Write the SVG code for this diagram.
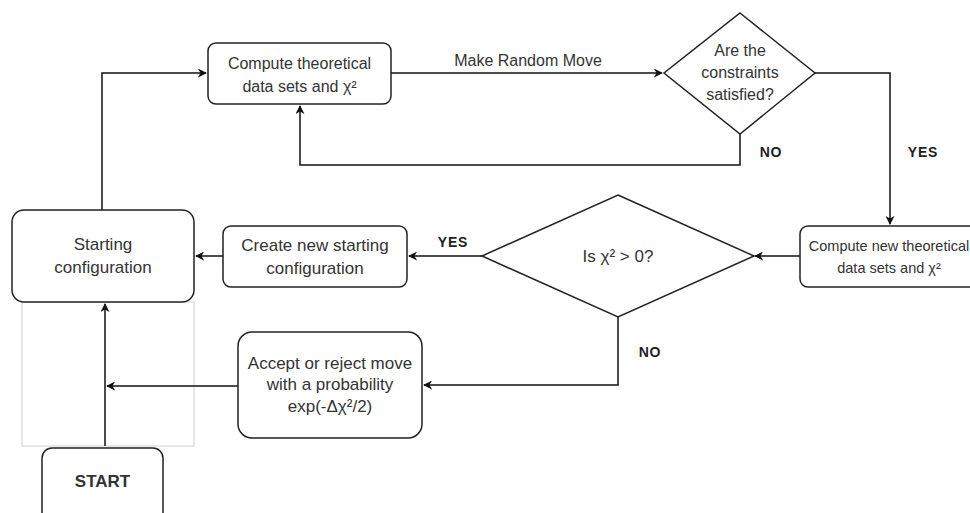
<svg xmlns="http://www.w3.org/2000/svg" width="970" height="513" viewBox="0 0 970 513">
<style>
.box{fill:#fff;stroke:#222;stroke-width:1.5}
.t{font-family:"Liberation Sans",Arial,sans-serif;font-size:17px;fill:#333;text-anchor:middle}
.s{font-size:16px}
.xs{font-size:14.5px}
.lbl{font-family:"Liberation Sans",Arial,sans-serif;font-size:14px;font-weight:bold;fill:#222;text-anchor:middle;letter-spacing:0.8px}
.c{fill:none;stroke:#111;stroke-width:1.5}
</style>
<defs>
<marker id="ah" viewBox="0 0 10 10" refX="9" refY="5" markerWidth="9" markerHeight="9" markerUnits="userSpaceOnUse" orient="auto">
<path d="M0,0 L10,5 L0,10 L3,5 z" fill="#111"/>
</marker>
</defs>
<rect x="0" y="0" width="970" height="513" fill="#fff"/>
<rect x="22" y="302" width="172" height="144" fill="none" stroke="#d0d0d0" stroke-width="1"/>
<g id="connectors">
<path class="c" d="M102,210 V73 H206" marker-end="url(#ah)"/>
<path class="c" d="M391,73 H662" marker-end="url(#ah)"/>
<path class="c" d="M740,134 V165 H300 V106" marker-end="url(#ah)"/>
<path class="c" d="M815,73 H890 V224" marker-end="url(#ah)"/>
<path class="c" d="M800,256 H755" marker-end="url(#ah)"/>
<path class="c" d="M482,256 H409" marker-end="url(#ah)"/>
<path class="c" d="M223,256 H196" marker-end="url(#ah)"/>
<path class="c" d="M618,317 V385 H424" marker-end="url(#ah)"/>
<path class="c" d="M238,386 H107" marker-end="url(#ah)"/>
<path class="c" d="M105,446 V304" marker-end="url(#ah)"/>
<text class="t s" x="528" y="66">Make Random Move</text>
<text class="lbl" x="771" y="157">NO</text>
<text class="lbl" x="923" y="157">YES</text>
<text class="lbl" x="453" y="247">YES</text>
<text class="lbl" x="650" y="357">NO</text>
</g>
<g id="compute">
<rect class="box" x="208" y="43" width="183" height="61" rx="8"/>
<text class="t s" x="299.5" y="69">Compute theoretical</text>
<text class="t s" x="299.5" y="92">data sets and χ²</text>
</g>
<g id="constraints">
<polygon class="box" points="740,13 815,73 740,134 664,73"/>
<text class="t s" x="740" y="56">Are the</text>
<text class="t s" x="740" y="78">constraints</text>
<text class="t s" x="740" y="100">satisfied?</text>
</g>
<g id="computeNew">
<rect class="box" x="800" y="226" width="178" height="61" rx="8"/>
<text class="t xs" x="889" y="251">Compute new theoretical</text>
<text class="t xs" x="889" y="273">data sets and χ²</text>
</g>
<g id="isChi">
<polygon class="box" points="618,195 754,256 618,317 482,256"/>
<text class="t" x="618" y="262">Is χ² &gt; 0?</text>
</g>
<g id="createNew">
<rect class="box" x="223" y="226" width="184" height="61" rx="8"/>
<text class="t" x="315" y="251">Create new starting</text>
<text class="t" x="315" y="274">configuration</text>
</g>
<g id="starting">
<rect class="box" x="12" y="210" width="182" height="92" rx="12"/>
<text class="t" x="103" y="250">Starting</text>
<text class="t" x="103" y="273">configuration</text>
</g>
<g id="accept">
<rect class="box" x="238" y="332" width="184" height="106" rx="14"/>
<text class="t" x="330" y="369">Accept or reject move</text>
<text class="t" x="330" y="390">with a probability</text>
<text class="t" x="330" y="412">exp(-Δχ²/2)</text>
</g>
<g id="start">
<rect class="box" x="42" y="448" width="121" height="80" rx="10"/>
<text class="t" x="102.5" y="487" font-weight="bold" fill="#222">START</text>
</g>
</svg>
